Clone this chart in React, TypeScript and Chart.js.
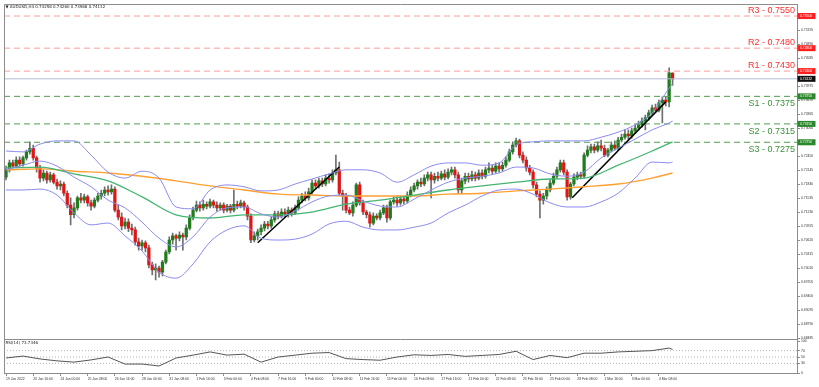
import React, { useEffect, useRef } from "react";
import { Chart, registerables } from "chart.js";

Chart.register(...registerables);

const symbolTitle = "AUDUSD,H4 0.74258 0.74260 0.73988 0.74132";
const rsiTitle = "RSI(14) 73.7346";

const xLabels = [
  "19 Jan 2022", "20 Jan 16:00", "24 Jan 00:00", "25 Jan 08:00", "26 Jan 16:00",
  "28 Jan 00:00", "31 Jan 08:00", "1 Feb 16:00", "3 Feb 00:00", "4 Feb 08:00",
  "7 Feb 16:00", "9 Feb 00:00", "10 Feb 08:00", "11 Feb 16:00", "15 Feb 00:00",
  "16 Feb 08:00", "17 Feb 16:00", "21 Feb 00:00", "22 Feb 08:00", "23 Feb 16:00",
  "25 Feb 00:00", "28 Feb 08:00", "1 Mar 16:00", "3 Mar 00:00", "4 Mar 08:00",
];
const barsPerLabel = 8;

const opens = [
  0.7199, 0.7215, 0.7230, 0.7223, 0.7236, 0.7228, 0.7241, 0.7254, 0.7262, 0.7241,
  0.7219, 0.7197, 0.7208, 0.7193, 0.7204, 0.7188, 0.7180, 0.7184, 0.7164, 0.7138,
  0.7117, 0.7132, 0.7154, 0.7149, 0.7156, 0.7143, 0.7136, 0.7149, 0.7158, 0.7164,
  0.7171, 0.7167, 0.7173, 0.7127, 0.7112, 0.7093, 0.7101, 0.7088, 0.7084, 0.7058,
  0.7049, 0.7056, 0.7045, 0.7008, 0.6997, 0.7001, 0.6992, 0.7014, 0.7036, 0.7062,
  0.7071, 0.7066, 0.7073, 0.7069, 0.7088, 0.7110, 0.7127, 0.7138, 0.7132, 0.7140,
  0.7136, 0.7145, 0.7138, 0.7132, 0.7138, 0.7127, 0.7136, 0.7127, 0.7140, 0.7136,
  0.7143, 0.7134, 0.7114, 0.7062, 0.7071, 0.7080, 0.7088, 0.7097, 0.7093, 0.7106,
  0.7119, 0.7114, 0.7123, 0.7117, 0.7127, 0.7121, 0.7132, 0.7149, 0.7158, 0.7154,
  0.7167, 0.7186, 0.7180, 0.7191, 0.7184, 0.7197, 0.7193, 0.7208, 0.7215, 0.7164,
  0.7158, 0.7127, 0.7121, 0.7138, 0.7182, 0.7143, 0.7123, 0.7117, 0.7099, 0.7114,
  0.7110, 0.7121, 0.7132, 0.7110, 0.7145, 0.7149, 0.7143, 0.7151, 0.7147, 0.7160,
  0.7171, 0.7180, 0.7188, 0.7184, 0.7197, 0.7204, 0.7193, 0.7201, 0.7197, 0.7206,
  0.7199, 0.7210, 0.7215, 0.7204, 0.7171, 0.7191, 0.7201, 0.7195, 0.7204, 0.7197,
  0.7208, 0.7201, 0.7215, 0.7219, 0.7212, 0.7223, 0.7217, 0.7225, 0.7236, 0.7254,
  0.7269, 0.7278, 0.7247, 0.7236, 0.7219, 0.7210, 0.7182, 0.7162, 0.7149, 0.7158,
  0.7171, 0.7186, 0.7201, 0.7215, 0.7230, 0.7210, 0.7156, 0.7184, 0.7199, 0.7204,
  0.7201, 0.7247, 0.7258, 0.7265, 0.7258, 0.7267, 0.7262, 0.7247, 0.7258, 0.7269,
  0.7262, 0.7280, 0.7286, 0.7293, 0.7289, 0.7300, 0.7306, 0.7313, 0.7321, 0.7328,
  0.7339, 0.7350, 0.7345, 0.7361, 0.7367, 0.7363, 0.74258,
];
const highs = [
  0.7223, 0.7236, 0.7236, 0.7243, 0.7243, 0.7245, 0.7258, 0.7276, 0.7269, 0.7245,
  0.7225, 0.7215, 0.7212, 0.7210, 0.7208, 0.7195, 0.7191, 0.7188, 0.7169, 0.7154,
  0.7143, 0.7158, 0.7164, 0.7162, 0.7160, 0.7149, 0.7154, 0.7164, 0.7171, 0.7178,
  0.7180, 0.7182, 0.7178, 0.7138, 0.7121, 0.7110, 0.7108, 0.7097, 0.7090, 0.7066,
  0.7062, 0.7060, 0.7051, 0.7014, 0.7010, 0.7005, 0.7018, 0.7040, 0.7069, 0.7077,
  0.7075, 0.7080, 0.7077, 0.7095, 0.7117, 0.7134, 0.7147, 0.7145, 0.7149, 0.7145,
  0.7151, 0.7149, 0.7145, 0.7143, 0.7143, 0.7140, 0.7140, 0.7171, 0.7147, 0.7149,
  0.7147, 0.7138, 0.7119, 0.7080, 0.7086, 0.7095, 0.7103, 0.7103, 0.7112, 0.7125,
  0.7125, 0.7130, 0.7130, 0.7134, 0.7132, 0.7138, 0.7156, 0.7164, 0.7167, 0.7175,
  0.7193, 0.7193, 0.7197, 0.7197, 0.7204, 0.7206, 0.7215, 0.7247, 0.7232, 0.7171,
  0.7164, 0.7134, 0.7145, 0.7186, 0.7188, 0.7149, 0.7127, 0.7123, 0.7121, 0.7119,
  0.7127, 0.7138, 0.7138, 0.7149, 0.7156, 0.7158, 0.7158, 0.7158, 0.7167, 0.7178,
  0.7186, 0.7193, 0.7197, 0.7204, 0.7210, 0.7210, 0.7208, 0.7210, 0.7212, 0.7215,
  0.7217, 0.7221, 0.7221, 0.7210, 0.7197, 0.7208, 0.7208, 0.7212, 0.7210, 0.7215,
  0.7215, 0.7221, 0.7230, 0.7225, 0.7230, 0.7230, 0.7232, 0.7243, 0.7260, 0.7276,
  0.7284, 0.7282, 0.7254, 0.7243, 0.7225, 0.7215, 0.7188, 0.7169, 0.7164, 0.7178,
  0.7193, 0.7208, 0.7221, 0.7236, 0.7236, 0.7215, 0.7188, 0.7206, 0.7210, 0.7210,
  0.7252, 0.7267, 0.7271, 0.7271, 0.7276, 0.7280, 0.7269, 0.7262, 0.7276, 0.7278,
  0.7286, 0.7293, 0.7302, 0.7302, 0.7306, 0.7313, 0.7321, 0.7328, 0.7334, 0.7345,
  0.7356, 0.7358, 0.7367, 0.7374, 0.7374, 0.7437, 0.74260,
];
const lows = [
  0.7193, 0.7210, 0.7219, 0.7219, 0.7223, 0.7223, 0.7236, 0.7249, 0.7236, 0.7210,
  0.7188, 0.7191, 0.7186, 0.7188, 0.7184, 0.7173, 0.7171, 0.7158, 0.7132, 0.7095,
  0.7110, 0.7127, 0.7143, 0.7143, 0.7136, 0.7127, 0.7132, 0.7145, 0.7151, 0.7158,
  0.7160, 0.7162, 0.7123, 0.7106, 0.7084, 0.7086, 0.7080, 0.7073, 0.7051, 0.7040,
  0.7040, 0.7036, 0.7001, 0.6986, 0.6975, 0.6981, 0.6984, 0.7010, 0.7032, 0.7053,
  0.7040, 0.7060, 0.7040, 0.7062, 0.7084, 0.7106, 0.7123, 0.7125, 0.7127, 0.7130,
  0.7132, 0.7132, 0.7125, 0.7127, 0.7121, 0.7123, 0.7121, 0.7123, 0.7130, 0.7132,
  0.7127, 0.7106, 0.7056, 0.7058, 0.7062, 0.7073, 0.7082, 0.7086, 0.7088, 0.7101,
  0.7108, 0.7110, 0.7110, 0.7112, 0.7114, 0.7117, 0.7127, 0.7143, 0.7147, 0.7149,
  0.7162, 0.7173, 0.7175, 0.7178, 0.7180, 0.7186, 0.7188, 0.7204, 0.7160, 0.7127,
  0.7121, 0.7117, 0.7114, 0.7134, 0.7138, 0.7117, 0.7110, 0.7090, 0.7095, 0.7106,
  0.7106, 0.7117, 0.7101, 0.7106, 0.7140, 0.7136, 0.7138, 0.7140, 0.7143, 0.7156,
  0.7167, 0.7173, 0.7178, 0.7180, 0.7191, 0.7154, 0.7186, 0.7191, 0.7193, 0.7193,
  0.7195, 0.7204, 0.7197, 0.7164, 0.7164, 0.7184, 0.7188, 0.7191, 0.7191, 0.7193,
  0.7195, 0.7197, 0.7208, 0.7206, 0.7208, 0.7210, 0.7212, 0.7221, 0.7232, 0.7249,
  0.7265, 0.7241, 0.7230, 0.7212, 0.7204, 0.7175, 0.7156, 0.7110, 0.7140, 0.7151,
  0.7167, 0.7182, 0.7197, 0.7210, 0.7204, 0.7149, 0.7151, 0.7180, 0.7193, 0.7195,
  0.7197, 0.7243, 0.7252, 0.7252, 0.7254, 0.7256, 0.7243, 0.7243, 0.7254, 0.7258,
  0.7258, 0.7276, 0.7282, 0.7282, 0.7284, 0.7295, 0.7302, 0.7308, 0.7302, 0.7323,
  0.7334, 0.7341, 0.7341, 0.7317, 0.7354, 0.7352, 0.73988,
];
const closes = [
  0.7215, 0.7230, 0.7223, 0.7236, 0.7228, 0.7241, 0.7254, 0.7262, 0.7241, 0.7219,
  0.7197, 0.7208, 0.7193, 0.7204, 0.7188, 0.7180, 0.7184, 0.7164, 0.7138, 0.7117,
  0.7132, 0.7154, 0.7149, 0.7156, 0.7143, 0.7136, 0.7149, 0.7158, 0.7164, 0.7171,
  0.7167, 0.7173, 0.7127, 0.7112, 0.7093, 0.7101, 0.7088, 0.7084, 0.7058, 0.7049,
  0.7056, 0.7045, 0.7008, 0.6997, 0.7001, 0.6992, 0.7014, 0.7036, 0.7062, 0.7071,
  0.7066, 0.7073, 0.7069, 0.7088, 0.7110, 0.7127, 0.7138, 0.7132, 0.7140, 0.7136,
  0.7145, 0.7138, 0.7132, 0.7138, 0.7127, 0.7136, 0.7127, 0.7140, 0.7136, 0.7143,
  0.7134, 0.7114, 0.7062, 0.7071, 0.7080, 0.7088, 0.7097, 0.7093, 0.7106, 0.7119,
  0.7114, 0.7123, 0.7117, 0.7127, 0.7121, 0.7132, 0.7149, 0.7158, 0.7154, 0.7167,
  0.7186, 0.7180, 0.7191, 0.7184, 0.7197, 0.7193, 0.7208, 0.7215, 0.7164, 0.7158,
  0.7127, 0.7121, 0.7138, 0.7182, 0.7143, 0.7123, 0.7117, 0.7099, 0.7114, 0.7110,
  0.7121, 0.7132, 0.7110, 0.7145, 0.7149, 0.7143, 0.7151, 0.7147, 0.7160, 0.7171,
  0.7180, 0.7188, 0.7184, 0.7197, 0.7204, 0.7193, 0.7201, 0.7197, 0.7206, 0.7199,
  0.7210, 0.7215, 0.7204, 0.7171, 0.7191, 0.7201, 0.7195, 0.7204, 0.7197, 0.7208,
  0.7201, 0.7215, 0.7219, 0.7212, 0.7223, 0.7217, 0.7225, 0.7236, 0.7254, 0.7269,
  0.7278, 0.7247, 0.7236, 0.7219, 0.7210, 0.7182, 0.7162, 0.7149, 0.7158, 0.7171,
  0.7186, 0.7201, 0.7215, 0.7230, 0.7210, 0.7156, 0.7184, 0.7199, 0.7204, 0.7201,
  0.7247, 0.7258, 0.7265, 0.7258, 0.7267, 0.7262, 0.7247, 0.7258, 0.7269, 0.7262,
  0.7280, 0.7286, 0.7293, 0.7289, 0.7300, 0.7306, 0.7313, 0.7321, 0.7328, 0.7339,
  0.7350, 0.7345, 0.7361, 0.7367, 0.7363, 0.7426, 0.74132,
];

// Indicator readings (bar index -> value)
const bandIdx = [
  0, 5, 10, 15, 20, 25, 30, 35, 40, 45, 50, 55, 60, 65, 70, 75, 80, 85, 90, 95,
  100, 105, 110, 115, 120, 125, 130, 135, 140, 145, 150, 155, 160, 165, 170, 175,
  180, 185, 190, 195, 196,
];
const bbUpper = [
  0.7256, 0.7254, 0.7271, 0.7278, 0.7278, 0.7247, 0.7210, 0.7197, 0.7212, 0.7197,
  0.7134, 0.7130, 0.7171, 0.7182, 0.7178, 0.7169, 0.7171, 0.7184, 0.7195, 0.7206,
  0.7215, 0.7215, 0.7208, 0.7188, 0.7204, 0.7223, 0.7230, 0.7230, 0.7225, 0.7230,
  0.7269, 0.7276, 0.7278, 0.7278, 0.7278, 0.7286, 0.7297, 0.7313, 0.7339, 0.7393,
  0.7402,
];
const bbMiddle = [
  0.7215, 0.7225, 0.7234, 0.7223, 0.7199, 0.7178, 0.7149, 0.7132, 0.7101, 0.7066,
  0.7047, 0.7069, 0.7112, 0.7132, 0.7134, 0.7119, 0.7112, 0.7125, 0.7145, 0.7158,
  0.7160, 0.7147, 0.7136, 0.7134, 0.7151, 0.7171, 0.7188, 0.7197, 0.7201, 0.7208,
  0.7221, 0.7219, 0.7206, 0.7201, 0.7210, 0.7241, 0.7262, 0.7282, 0.7302, 0.7317,
  0.7321,
];
const bbLower = [
  0.7171, 0.7171, 0.7173, 0.7160, 0.7121, 0.7095, 0.7099, 0.7071, 0.7038, 0.6992,
  0.6979, 0.7010, 0.7058, 0.7084, 0.7093, 0.7066, 0.7062, 0.7064, 0.7075, 0.7097,
  0.7103, 0.7090, 0.7084, 0.7084, 0.7090, 0.7099, 0.7121, 0.7138, 0.7158, 0.7171,
  0.7173, 0.7162, 0.7143, 0.7134, 0.7134, 0.7145, 0.7164, 0.7197, 0.7232, 0.7230,
  0.7232,
];
const rsiValues = [
  47, 53, 44, 38, 34, 41, 50, 28, 28, 22, 47, 56, 66, 56, 59, 34, 50, 56, 62, 64,
  45, 42, 40, 50, 57, 55, 58, 52, 55, 58, 68, 42, 55, 48, 62, 62, 66, 68, 70, 78,
  73.7346,
];

const maIdx = [0, 10, 20, 30, 40, 50, 60, 70, 80, 90, 100, 110, 120, 130, 140, 150, 160, 170, 180, 190, 196];
const maGreen = [
  0.7219, 0.7221, 0.7206, 0.7191, 0.7156, 0.7117, 0.7110, 0.7117, 0.7117, 0.7123,
  0.7140, 0.7149, 0.7160, 0.7171, 0.7180, 0.7188, 0.7195, 0.7197, 0.7225, 0.7256,
  0.7276,
];
const maOrange = [
  0.7215, 0.7217, 0.7212, 0.7208, 0.7201, 0.7191, 0.7180, 0.7171, 0.7162, 0.7160,
  0.7158, 0.7158, 0.7158, 0.7162, 0.7164, 0.7169, 0.7173, 0.7178, 0.7184, 0.7197,
  0.7208,
];

const levelNames = ["R3", "R2", "R1", "S1", "S2", "S3"];
const levelValues = [0.755, 0.748, 0.743, 0.7375, 0.7315, 0.7275];
const bidPrice = 0.74132;

const trend1X = [74, 98];
const trend1Y = [0.7056, 0.7221];
const trend2X = [166.5, 194];
const trend2Y = [0.7154, 0.7363];

const priceTicks = [
  0.68485, 0.6879, 0.69095, 0.694, 0.69705, 0.7001, 0.70315, 0.7062, 0.70925, 0.7123,
  0.71535, 0.7184, 0.72145, 0.7245, 0.72755, 0.7306, 0.73365, 0.7367, 0.73975, 0.7428,
  0.74585, 0.7489, 0.75195, 0.755,
];
const rsiTicks = [0, 30, 50, 70, 100];
const rsiLevels = [70, 50, 30];

// view ranges
const X_MIN = -0.6;
const X_MAX = 232.6;
const P_MIN = 0.68475;
const P_MAX = 0.75762;
const RSI_MIN = 0;
const RSI_MAX = 108;

// styles
const UP = "#1f7d1c";
const DOWN = "#e01616";
const WICK = "#6f6f6f";
const BB = "#8a8af0";
const GREEN_MA = "#44b572";
const ORANGE_MA = "#ffa033";
const R_LINE = "#ff9a9a";
const S_LINE = "#4f9f4f";
const R_TEXT = "#ff3030";
const S_TEXT = "#3a8f3a";
const TICK_FONT = { size: 3.4, family: "'Liberation Sans', Arial, sans-serif" };

const overlay = {
  id: "overlay",
  afterDraw(chart: any) {
    const { ctx, chartArea } = chart;
    const { left, top, right, bottom } = chartArea;
    const y = chart.scales.y;
    ctx.save();
    ctx.strokeStyle = "#8c8c8c";
    ctx.lineWidth = 1;
    ctx.beginPath();
    ctx.moveTo(left + 0.5, bottom);
    ctx.lineTo(left + 0.5, top + 0.5);
    ctx.lineTo(right, top + 0.5);
    const sep = Math.round(y.bottom) + 0.5;
    ctx.moveTo(left, sep);
    ctx.lineTo(right, sep);
    ctx.stroke();

    ctx.fillStyle = "#222";
    ctx.font = "4px 'DejaVu Sans', sans-serif";
    ctx.textAlign = "left";
    ctx.textBaseline = "middle";
    ctx.fillText("\u25BC " + symbolTitle, left + 1.5, top + 3);
    ctx.fillText(rsiTitle, left + 1.5, y.bottom + 4.5);

    ctx.font = "9px 'Liberation Sans', Arial, sans-serif";
    levelValues.forEach((v, k) => {
      const py = y.getPixelForValue(v);
      const isR = levelNames[k].startsWith("R");
      ctx.fillStyle = isR ? R_TEXT : S_TEXT;
      ctx.textAlign = "right";
      ctx.textBaseline = isR ? "bottom" : "top";
      ctx.fillText(`${levelNames[k]} - ${v.toFixed(4)}`, right - 2, isR ? py - 1 : py + 3);
    });

    const box = (v: number, color: string) => {
      const py = y.getPixelForValue(v);
      ctx.fillStyle = color;
      ctx.fillRect(right + 0.5, py - 3, 18, 6);
      ctx.fillStyle = "#ffffff";
      ctx.font = "3.4px 'Liberation Sans', Arial, sans-serif";
      ctx.textAlign = "left";
      ctx.textBaseline = "middle";
      ctx.fillText(v.toFixed(5), right + 3, py);
    };
    levelValues.forEach((v, k) => box(v, levelNames[k].startsWith("R") ? "#ff1f1f" : "#2c872c"));
    box(bidPrice, "#111111");
    ctx.restore();
  },
};

export default function App() {
  const ref = useRef<HTMLCanvasElement>(null);

  useEffect(() => {
    const canvas = ref.current;
    if (!canvas) return;
    const idx = closes.map((_, i) => i);
    const bodyColors = closes.map((c, i) => (c >= opens[i] ? UP : DOWN));
    const lineDs = (label: string, xs: number[], ys: number[], color: string, width: number, extra: any = {}) => ({
      type: "line" as const,
      label,
      data: xs.map((x, k) => ({ x, y: ys[k] })),
      borderColor: color,
      borderWidth: width,
      pointRadius: 0,
      fill: false,
      order: 1,
      ...extra,
    });

    const levelSets = levelValues.map((v, k) =>
      lineDs(levelNames[k], [X_MIN, X_MAX], [v, v], levelNames[k].startsWith("R") ? R_LINE : S_LINE, 1, {
        borderDash: [6, 4],
        order: 4,
      })
    );
    const rsiLevelSets = rsiLevels.map((v) =>
      lineDs("rsi" + v, [X_MIN, X_MAX], [v, v], "#b5b5b5", 1, { borderDash: [1, 2], yAxisID: "rsi", order: 4 })
    );

    const chart = new Chart(canvas, {
      type: "bar",
      data: {
        datasets: [
          {
            type: "bar",
            label: "wicks",
            data: idx.map((i) => ({ x: i, y: [lows[i], highs[i]] })),
            backgroundColor: WICK,
            barThickness: 1,
            grouped: false,
            order: 6,
          } as any,
          {
            type: "bar",
            label: "bodies",
            data: idx.map((i) => ({ x: i, y: [opens[i], closes[i]] })),
            backgroundColor: bodyColors,
            barThickness: 2.6,
            minBarLength: 1,
            grouped: false,
            order: 5,
          } as any,
          ...levelSets,
          lineDs("bid", [X_MIN, X_MAX], [bidPrice, bidPrice], "#b3bbd6", 1, { order: 4 }),
          lineDs("bbUpper", bandIdx, bbUpper, BB, 1, { cubicInterpolationMode: "monotone" }),
          lineDs("bbMiddle", bandIdx, bbMiddle, BB, 1, { cubicInterpolationMode: "monotone" }),
          lineDs("bbLower", bandIdx, bbLower, BB, 1, { cubicInterpolationMode: "monotone" }),
          lineDs("maGreen", maIdx, maGreen, GREEN_MA, 1.3, { cubicInterpolationMode: "monotone" }),
          lineDs("maOrange", maIdx, maOrange, ORANGE_MA, 1.4, { cubicInterpolationMode: "monotone" }),
          lineDs("trend1", trend1X, trend1Y, "#000000", 1.5),
          lineDs("trend2", trend2X, trend2Y, "#000000", 1.5),
          ...rsiLevelSets,
          lineDs("rsi", bandIdx, rsiValues, "#555555", 1, { yAxisID: "rsi" }),
        ] as any,
      },
      options: {
        responsive: false,
        devicePixelRatio: 1,
        animation: false,
        events: [],
        layout: { padding: { left: 4, top: 4, right: 0, bottom: 0 } },
        plugins: { legend: { display: false }, tooltip: { enabled: false } },
        scales: {
          x: {
            type: "linear",
            min: X_MIN,
            max: X_MAX,
            offset: false,
            position: "bottom",
            grid: { display: true, drawOnChartArea: false, drawTicks: true, tickLength: 3, color: "#8c8c8c", offset: false },
            border: { display: true, color: "#8c8c8c" },
            ticks: {
              font: TICK_FONT,
              color: "#333",
              align: "start",
              autoSkip: false,
              maxRotation: 0,
              minRotation: 0,
              padding: 1,
              callback: (v: any) => {
                const k = Math.round(Number(v) / barsPerLabel);
                return xLabels[k] ?? "";
              },
            },
            afterBuildTicks: (s: any) => {
              s.ticks = xLabels.map((_, k) => ({ value: k * barsPerLabel }));
            },
            afterFit: (s: any) => {
              s.height = 14;
            },
          },
          y: {
            type: "linear",
            position: "right",
            stack: "panes",
            stackWeight: 334.5,
            min: P_MIN,
            max: P_MAX,
            grid: { display: true, drawOnChartArea: false, drawTicks: true, tickLength: 3, color: "#8c8c8c" },
            border: { display: true, color: "#8c8c8c" },
            ticks: {
              font: TICK_FONT,
              color: "#333",
              autoSkip: false,
              padding: 1,
              callback: (v: any) => Number(v).toFixed(5),
            },
            afterBuildTicks: (s: any) => {
              s.ticks = priceTicks.map((value) => ({ value }));
            },
            afterFit: (s: any) => {
              s.width = 22;
            },
          },
          rsi: {
            type: "linear",
            position: "right",
            stack: "panes",
            stackWeight: 34.5,
            min: RSI_MIN,
            max: RSI_MAX,
            grid: { display: true, drawOnChartArea: false, drawTicks: true, tickLength: 3, color: "#8c8c8c" },
            border: { display: true, color: "#8c8c8c" },
            ticks: {
              font: TICK_FONT,
              color: "#333",
              autoSkip: false,
              padding: 1,
              callback: (v: any) => String(v),
            },
            afterBuildTicks: (s: any) => {
              s.ticks = rsiTicks.map((value) => ({ value }));
            },
            afterFit: (s: any) => {
              s.width = 22;
            },
          },
        } as any,
      },
      plugins: [overlay],
    });
    return () => chart.destroy();
  }, []);

  return (
    <div style={{ position: "fixed", left: 0, top: 0, width: 819, height: 387, background: "#ffffff" }}>
      <canvas ref={ref} width={819} height={387} style={{ display: "block", width: 819, height: 387 }} />
    </div>
  );
}
